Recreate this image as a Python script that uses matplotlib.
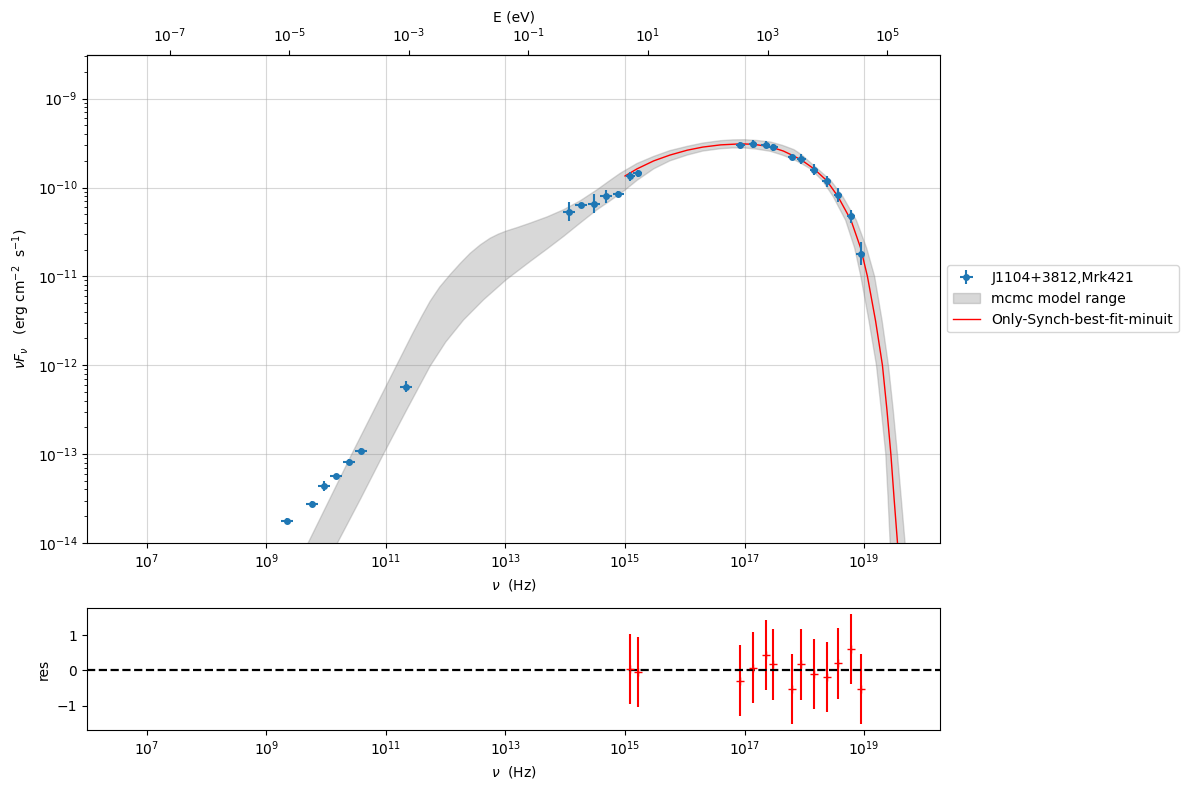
import numpy as np
import matplotlib

matplotlib.use("Agg")
import matplotlib.pyplot as plt

# observed SED points (log10 nu [Hz], log10 nuFnu [erg cm-2 s-1]) and errors in dex
log_nu = [9.35, 9.77, 9.97, 10.17, 10.38, 10.58, 11.34,
          14.06, 14.27, 14.48, 14.68, 14.89, 15.09, 15.21,
          16.93, 17.14, 17.35, 17.48, 17.79, 17.95, 18.16, 18.37, 18.56, 18.78, 18.94]
log_nufnu = [-13.75, -13.56, -13.36, -13.25, -13.09, -12.96, -12.24,
             -10.27, -10.20, -10.18, -10.10, -10.07, -9.875, -9.84,
             -9.518, -9.51, -9.518, -9.548, -9.657, -9.68, -9.80, -9.93, -10.08, -10.325, -10.745]
dlog_nu = [0.1, 0.1, 0.1, 0.1, 0.1, 0.1, 0.1,
           0.1, 0.1, 0.1, 0.1, 0.1, 0.08, 0.08,
           0.07, 0.07, 0.07, 0.07, 0.07, 0.07, 0.07, 0.07, 0.07, 0.07, 0.07]
dlog_nufnu = [0.03, 0.03, 0.06, 0.03, 0.03, 0.03, 0.06,
              0.11, 0.03, 0.11, 0.075, 0.03, 0.05, 0.04,
              0.03, 0.04, 0.04, 0.04, 0.03, 0.06, 0.06, 0.06, 0.08, 0.07, 0.13]

# best fit model curve
fit_log_nu = [15.0, 15.2, 15.48, 15.75, 16.04, 16.3, 16.6, 16.93, 17.14, 17.35, 17.48, 17.65,
              17.79, 17.95, 18.16, 18.37, 18.56, 18.78, 18.94, 19.054, 19.19, 19.305, 19.38,
              19.446, 19.5, 19.557, 19.59]
fit_log_nufnu = [-9.87, -9.79, -9.70, -9.635, -9.58, -9.545, -9.52, -9.509, -9.513, -9.533,
                 -9.553, -9.59, -9.635, -9.69, -9.79, -9.92, -10.10, -10.37, -10.68, -11.0,
                 -11.5, -12.0, -12.5, -13.0, -13.5, -14.0, -14.3]

# mcmc model range, upper and lower envelopes
up_log_nu = [9.55, 9.70, 10.43, 11.18, 11.45, 11.6, 11.74, 11.9, 12.075, 12.25, 12.41, 12.58,
             12.745, 12.88, 13.013, 13.2, 13.415, 13.7, 13.973, 14.25, 14.533, 14.75, 14.92,
             15.2, 15.48, 15.75, 16.04, 16.3, 16.6, 16.8, 17.0, 17.2, 17.435, 17.63, 17.826,
             17.95, 18.22, 18.44, 18.64, 18.87, 19.04, 19.174, 19.30, 19.405, 19.485, 19.556,
             19.62, 19.684, 19.72]
up_log_nufnu = [-14.2, -14.0, -13.0, -12.0, -11.64, -11.45, -11.28, -11.12, -10.98, -10.85,
                -10.74, -10.645, -10.57, -10.525, -10.49, -10.45, -10.40, -10.33, -10.25, -10.15,
                -10.025, -9.92, -9.84, -9.73, -9.65, -9.585, -9.537, -9.50, -9.473, -9.464,
                -9.462, -9.47, -9.488, -9.525, -9.574, -9.63, -9.79, -9.92, -10.10, -10.37,
                -10.68, -11.0, -11.5, -12.0, -12.5, -13.0, -13.5, -14.0, -14.3]
lo_log_nu = [10.05, 10.19, 10.58, 10.96, 11.35, 11.74, 12.0, 12.30, 12.633, 13.013, 13.415,
             13.7, 13.973, 14.25, 14.533, 14.75, 14.98, 15.2, 15.48, 15.75, 16.04, 16.3, 16.6,
             16.8, 17.0, 17.2, 17.435, 17.63, 17.826, 17.95, 18.10, 18.30, 18.48, 18.69, 18.84,
             18.944, 19.08, 19.205, 19.285, 19.361, 19.40, 19.434, 19.46]
lo_log_nufnu = [-14.2, -14.0, -13.5, -13.0, -12.5, -12.01, -11.74, -11.49, -11.264, -11.038,
                -10.832, -10.69, -10.55, -10.40, -10.25, -10.15, -10.04, -9.92, -9.79, -9.70,
                -9.635, -9.59, -9.563, -9.555, -9.555, -9.568, -9.593, -9.635, -9.687, -9.73,
                -9.79, -9.92, -10.10, -10.37, -10.68, -11.0, -11.5, -12.0, -12.5, -13.0,
                -13.5, -14.0, -14.3]

# residuals of the points used in the fit
res_log_nu = [15.09, 15.21, 16.93, 17.14, 17.35, 17.48, 17.79, 17.95, 18.16, 18.37, 18.56, 18.78, 18.94]
res_val = [0.05, -0.05, -0.29, 0.08, 0.43, 0.17, -0.54, 0.17, -0.11, -0.18, 0.20, 0.62, -0.52]
res_err = [1.0] * 13

H_EV = 4.135667696e-15  # Planck constant in eV s

nu = 10 ** np.array(log_nu)
nufnu = 10 ** np.array(log_nufnu)
dx = np.array(dlog_nu)
dy = np.array(dlog_nufnu)
xerr = [nu - nu * 10 ** -dx, nu * 10 ** dx - nu]
yerr = [nufnu - nufnu * 10 ** -dy, nufnu * 10 ** dy - nufnu]

fig = plt.figure(figsize=(11.9, 7.9), dpi=100)
ax = fig.add_axes([0.0731, 0.3127, 0.7169, 0.6177])
ax_res = fig.add_axes([0.0731, 0.0759, 0.7169, 0.1545])

band_x = np.concatenate([10 ** np.array(up_log_nu), 10 ** np.array(lo_log_nu)[::-1]])
band_y = np.concatenate([10 ** np.array(up_log_nufnu), 10 ** np.array(lo_log_nufnu)[::-1]])

h_data = ax.errorbar(nu, nufnu, xerr=xerr, yerr=yerr, fmt="o", ms=4, color="C0",
                     label="J1104+3812,Mrk421", zorder=3)
h_band = ax.fill(band_x, band_y, color="gray", alpha=0.3, label="mcmc model range", zorder=1)[0]
h_fit = ax.plot(10 ** np.array(fit_log_nu), 10 ** np.array(fit_log_nufnu), color="red", lw=1,
                label="Only-Synch-best-fit-minuit", zorder=2)[0]

ax.set_xscale("log")
ax.set_yscale("log")
ax.set_xlim(1e6, 1.86e20)
ax.set_ylim(1e-14, 3.1e-9)
ax.grid(True, which="major", alpha=0.5)
ax.set_xlabel(r"$\nu$  (Hz)")
ax.set_ylabel(r"$\nu F_{\nu}$   (erg cm$^{-2}$  s$^{-1}$)")
ax.set_axisbelow(True)

top = ax.secondary_xaxis("top", functions=(lambda x: x * H_EV, lambda e: e / H_EV))
top.set_xlabel("E (eV)")

ax.legend([h_data, h_band, h_fit],
          ["J1104+3812,Mrk421", "mcmc model range", "Only-Synch-best-fit-minuit"],
          loc="center left", bbox_to_anchor=(1.0, 0.5))

ax_res.errorbar(10 ** np.array(res_log_nu), res_val, yerr=res_err, fmt="+", color="red")
ax_res.axhline(0, ls="--", color="black", lw=1.6)
ax_res.set_xscale("log")
ax_res.set_xlim(1e6, 1.86e20)
ax_res.set_xlabel(r"$\nu$  (Hz)")
ax_res.set_ylabel("res")

plt.savefig("out.png")
